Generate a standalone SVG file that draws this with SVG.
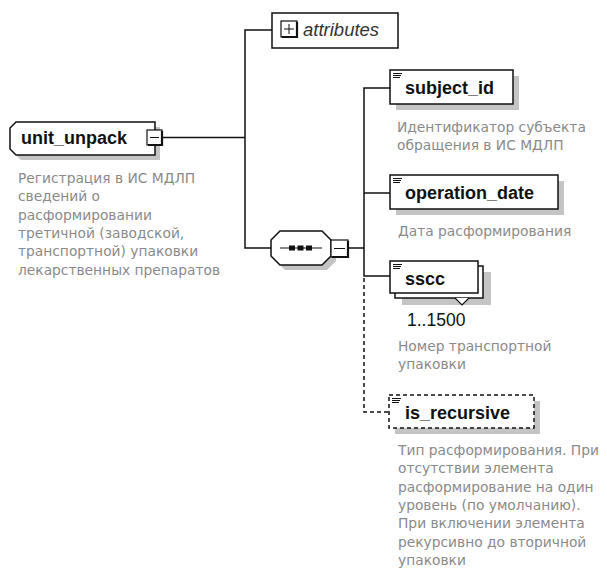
<svg xmlns="http://www.w3.org/2000/svg" width="607" height="571" viewBox="0 0 607 571">
<style>
.bg{fill:#ffffff}
.box{fill:#ffffff;stroke:#111;stroke-width:1.5}
.dbox{fill:#ffffff;stroke:#111;stroke-width:1.5;stroke-dasharray:4,3}
.shadow{fill:#c4c4c4}
.line{fill:none;stroke:#111;stroke-width:1.5}
.dline{fill:none;stroke:#111;stroke-width:1.5;stroke-dasharray:4,3}
.name{font-family:"Liberation Sans",Arial,sans-serif;font-weight:bold;font-size:18px;fill:#111}
.attr{font-family:"Liberation Sans",Arial,sans-serif;font-style:italic;font-size:18.5px;fill:#333}
.occ{font-family:"Liberation Sans",Arial,sans-serif;font-size:17.5px;fill:#111}
.desc{font-family:"DejaVu Sans","Noto Sans",sans-serif;font-size:13.8px;fill:#8a8a8a}
.icon{stroke:#111;stroke-width:1}
</style>
<rect class="bg" x="0" y="0" width="607" height="571"/>

<g id="connectors">
  <line class="line" x1="162" y1="137.5" x2="245" y2="137.5"/>
  <polyline class="line" points="272,30 245,30 245,248 271,248"/>
  <line class="line" x1="348" y1="248" x2="364" y2="248"/>
  <polyline class="line" points="390,88 364,88 364,276 390,276"/>
  <line class="line" x1="364" y1="193" x2="390" y2="193"/>
  <polyline class="dline" points="364,278 364,412 389,412"/>
</g>

<g id="unit_unpack">
  <path class="shadow" d="M21,127 H160 V160 H21 L15,154 V133 Z"/>
  <path class="box" d="M16,122 H155 V155 H16 L10,149 V128 Z"/>
  <text class="name" x="21" y="144">unit_unpack</text>
  <rect x="147" y="130" width="15" height="15" fill="#fff" stroke="#111" stroke-width="1.2"/>
  <polyline points="148,145 162,145 162,131" fill="none" stroke="#111" stroke-width="2.2"/>
  <line class="icon" x1="150" y1="137.5" x2="159" y2="137.5"/>
  <text class="desc"><tspan x="18" y="183">Регистрация в ИС МДЛП</tspan><tspan x="18" y="201.3">сведений о</tspan><tspan x="18" y="219.6">расформировании</tspan><tspan x="18" y="237.9">третичной (заводской,</tspan><tspan x="18" y="256.2">транспортной) упаковки</tspan><tspan x="18" y="274.5">лекарственных препаратов</tspan></text>
</g>

<g id="attributes">
  <rect class="box" x="272" y="13" width="126" height="35"/>
  <rect x="281" y="21" width="16" height="16" fill="#fff" stroke="#111" stroke-width="1.2"/>
  <polyline points="282,37 297,37 297,22" fill="none" stroke="#111" stroke-width="2.2"/>
  <line class="icon" x1="284" y1="29" x2="294" y2="29"/>
  <line class="icon" x1="289" y1="24" x2="289" y2="34"/>
  <text class="attr" x="303" y="36">attributes</text>
</g>

<g id="sequence">
  <path class="shadow" d="M285,236 H327 L336,245 V261 L327,270 H285 L276,261 V245 Z"/>
  <path class="box" d="M280,231 H322 L331,240 V256 L322,265 H280 L271,256 V240 Z"/>
  <line class="icon" x1="280" y1="248" x2="322" y2="248"/>
  <rect x="289" y="245.5" width="6" height="5" fill="#111"/>
  <rect x="297.5" y="245.5" width="6" height="5" fill="#111"/>
  <rect x="306" y="245.5" width="6" height="5" fill="#111"/>
  <rect x="331" y="240" width="17" height="17" fill="#fff" stroke="#111" stroke-width="1.2"/>
  <polyline points="332,257 348,257 348,241" fill="none" stroke="#111" stroke-width="2.2"/>
  <line class="icon" x1="334" y1="248.5" x2="345" y2="248.5"/>
</g>

<g id="subject_id">
  <rect class="shadow" x="396" y="76" width="123" height="34"/>
  <rect class="box" x="390" y="70" width="123" height="34"/>
  <g class="icon"><line x1="393" y1="73.5" x2="402" y2="73.5"/><line x1="393" y1="75.5" x2="401" y2="75.5"/><line x1="393" y1="77.5" x2="400" y2="77.5"/></g>
  <text class="name" x="405" y="94">subject_id</text>
  <text class="desc"><tspan x="397" y="132">Идентификатор субъекта</tspan><tspan x="397" y="150">обращения в ИС МДЛП</tspan></text>
</g>

<g id="operation_date">
  <rect class="shadow" x="396" y="181" width="168" height="34"/>
  <rect class="box" x="390" y="175" width="168" height="34"/>
  <g class="icon"><line x1="393" y1="178.5" x2="402" y2="178.5"/><line x1="393" y1="180.5" x2="401" y2="180.5"/><line x1="393" y1="182.5" x2="400" y2="182.5"/></g>
  <text class="name" x="405" y="199">operation_date</text>
  <text class="desc" x="398" y="236">Дата расформирования</text>
</g>

<g id="sscc">
  <rect class="shadow" x="402" y="272" width="89" height="33"/>
  <rect class="box" x="395" y="266" width="88" height="32"/>
  <polyline points="455,298 462,305 469,298" fill="#fff" stroke="#111" stroke-width="1.2"/>
  <rect class="box" x="390" y="261" width="88" height="32"/>
  <g class="icon"><line x1="393" y1="264.5" x2="402" y2="264.5"/><line x1="393" y1="266.5" x2="401" y2="266.5"/><line x1="393" y1="268.5" x2="400" y2="268.5"/></g>
  <text class="name" x="405" y="285">sscc</text>
  <text class="occ" x="407" y="326">1..1500</text>
  <text class="desc"><tspan x="398" y="351">Номер транспортной</tspan><tspan x="398" y="369">упаковки</tspan></text>
</g>

<g id="is_recursive">
  <rect class="shadow" x="395" y="401" width="145" height="33"/>
  <rect class="dbox" x="389" y="395" width="145" height="33"/>
  <g class="icon"><line x1="392" y1="398.5" x2="401" y2="398.5"/><line x1="392" y1="400.5" x2="400" y2="400.5"/><line x1="392" y1="402.5" x2="399" y2="402.5"/></g>
  <text class="name" x="405" y="419">is_recursive</text>
  <text class="desc"><tspan x="398" y="455">Тип расформирования. При</tspan><tspan x="398" y="473.3">отсутствии элемента</tspan><tspan x="398" y="491.6">расформирование на один</tspan><tspan x="398" y="509.9">уровень (по умолчанию).</tspan><tspan x="398" y="528.2">При включении элемента</tspan><tspan x="398" y="546.5">рекурсивно до вторичной</tspan><tspan x="398" y="564.8">упаковки</tspan></text>
</g>
</svg>
